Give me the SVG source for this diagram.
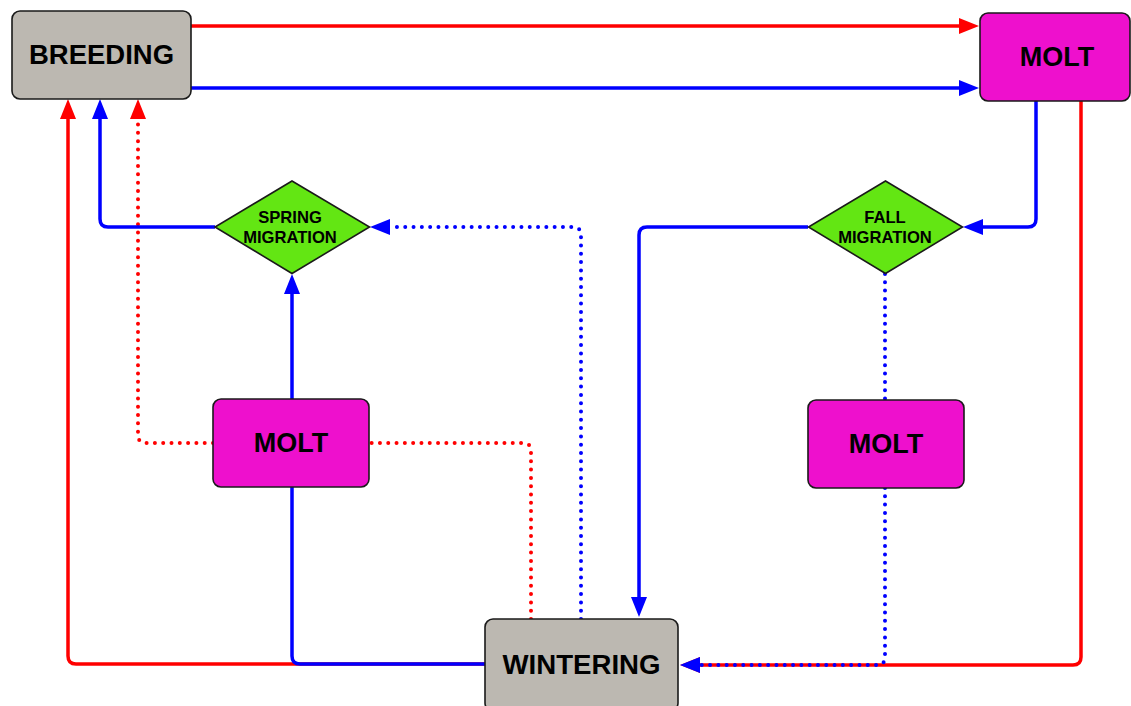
<svg xmlns="http://www.w3.org/2000/svg" width="1131" height="706" viewBox="0 0 1131 706">
  <style>
    .box { stroke: #1a1a1a; stroke-width: 1.6; }
    .site { fill: #bcb8b1; }
    .molt { fill: #ee10cd; }
    .mig { fill: #63e613; stroke: #1a1a1a; stroke-width: 1.6; }
    .lbl { font-family: "Liberation Sans", Arial, sans-serif; font-weight: bold; fill: #000; text-anchor: middle; }
    .big { font-size: 27px; }
    .small { font-size: 16.6px; }
    .c { fill: none; stroke-width: 3.5; }
    .red { stroke: #ff0000; }
    .blue { stroke: #0000ff; }
    .dot { stroke-dasharray: 0 8.3; stroke-linecap: round; stroke-width: 4; }
  </style>
  <defs>
    <marker id="arrR" markerUnits="userSpaceOnUse" markerWidth="20" markerHeight="16" refX="0" refY="8" orient="auto">
      <path d="M0,0 L20,8 L0,16 z" fill="#ff0000"/>
    </marker>
    <marker id="arrB" markerUnits="userSpaceOnUse" markerWidth="20" markerHeight="16" refX="0" refY="8" orient="auto">
      <path d="M0,0 L20,8 L0,16 z" fill="#0000ff"/>
    </marker>
  </defs>

  <rect width="1131" height="706" fill="#ffffff"/>

  <g id="connectors">
    <!-- breeding to molt -->
    <path class="c red" d="M191,26 H959" marker-end="url(#arrR)"/>
    <path class="c blue" d="M191,88 H959" marker-end="url(#arrB)"/>
    <!-- wintering straight back to breeding -->
    <path class="c red" d="M485,664 H76 Q68,664 68,656 V119" marker-end="url(#arrR)"/>
    <!-- red dotted: wintering -> molt -> breeding -->
    <path class="c red dot" d="M531,619 V451 Q531,443 523,443 H369"/>
    <path class="c red dot" d="M213,443 H146 Q138,443 138,435 V119" marker-end="url(#arrR)"/>
    <!-- blue: wintering -> molt -> spring migration -> breeding -->
    <path class="c blue" d="M485,664 H300 Q292,664 292,656 V487"/>
    <path class="c blue" d="M292,399 V294" marker-end="url(#arrB)"/>
    <path class="c blue" d="M215,227 H108 Q100,227 100,219 V119" marker-end="url(#arrB)"/>
    <!-- blue dotted: wintering -> spring migration -->
    <path class="c blue dot" d="M581,619 V235 Q581,227 573,227 H390" marker-end="url(#arrB)"/>
    <!-- molt -> wintering (red) -->
    <path class="c red" d="M1081,101 V657 Q1081,665 1073,665 H700" marker-end="url(#arrR)"/>
    <!-- blue: molt -> fall migration -> wintering -->
    <path class="c blue" d="M1036,101 V219 Q1036,227 1028,227 H983" marker-end="url(#arrB)"/>
    <path class="c blue" d="M808,227 H647 Q639,227 639,235 V597" marker-end="url(#arrB)"/>
    <!-- blue dotted: fall migration -> molt -> wintering -->
    <path class="c blue dot" d="M885,274 V400"/>
    <path class="c blue dot" d="M885,488 V657 Q885,665 877,665 H700" marker-end="url(#arrB)"/>
  </g>

  <g id="breeding">
    <rect class="box site" x="12" y="11" width="179" height="88" rx="8"/>
    <text class="lbl big" x="101.5" y="64" textLength="145" lengthAdjust="spacingAndGlyphs">BREEDING</text>
  </g>
  <g id="molt-summer">
    <rect class="box molt" x="980" y="13" width="150" height="88" rx="8"/>
    <text class="lbl big" x="1057" y="66">MOLT</text>
  </g>
  <g id="spring-migration">
    <polygon class="mig" points="292,181 369.5,227 292,273.5 215,227"/>
    <text class="lbl small" x="290" y="223">SPRING</text>
    <text class="lbl small" x="290" y="243">MIGRATION</text>
  </g>
  <g id="fall-migration">
    <polygon class="mig" points="885.5,181 962.5,227 885.5,273.5 808.5,227"/>
    <text class="lbl small" x="885" y="223">FALL</text>
    <text class="lbl small" x="885" y="243">MIGRATION</text>
  </g>
  <g id="molt-spring">
    <rect class="box molt" x="213" y="399" width="156" height="88" rx="8"/>
    <text class="lbl big" x="291" y="452">MOLT</text>
  </g>
  <g id="molt-fall">
    <rect class="box molt" x="808" y="400" width="156" height="88" rx="8"/>
    <text class="lbl big" x="886" y="453">MOLT</text>
  </g>
  <g id="wintering">
    <rect class="box site" x="485" y="619" width="193" height="92" rx="8"/>
    <text class="lbl big" x="581.5" y="674" textLength="158" lengthAdjust="spacingAndGlyphs">WINTERING</text>
  </g>
</svg>
